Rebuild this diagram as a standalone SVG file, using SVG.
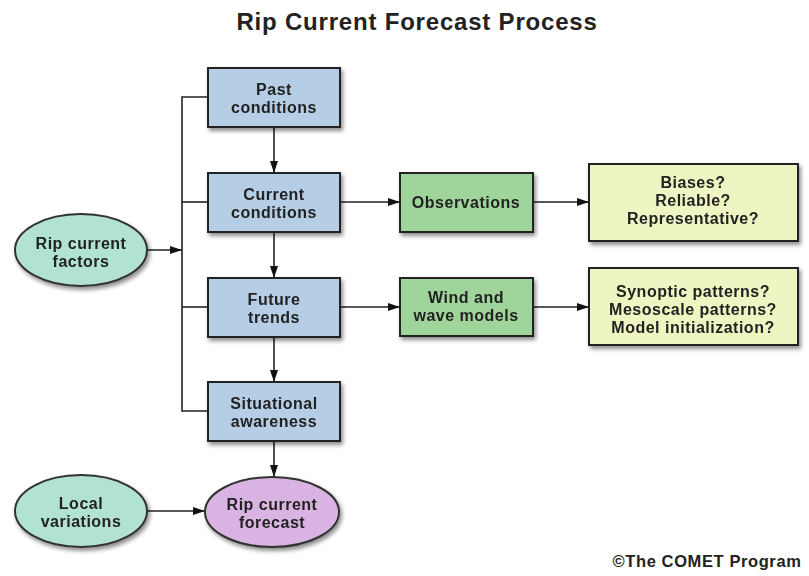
<svg xmlns="http://www.w3.org/2000/svg" width="809" height="576" viewBox="0 0 809 576">
<defs>
<filter id="sh" x="-20%" y="-20%" width="150%" height="160%">
<feGaussianBlur in="SourceAlpha" stdDeviation="2"/>
<feOffset dx="2" dy="3" result="b"/>
<feComponentTransfer><feFuncA type="linear" slope="0.45"/></feComponentTransfer>
<feMerge><feMergeNode/><feMergeNode in="SourceGraphic"/></feMerge>
</filter>
<marker id="ah" markerWidth="12" markerHeight="8" refX="12" refY="4" orient="auto" markerUnits="userSpaceOnUse">
<path d="M0,0 L12,4 L0,8 Z" fill="#111"/>
</marker>
</defs>
<style>
text{font-family:"Liberation Sans",Arial,sans-serif;font-weight:bold;fill:#222;text-anchor:middle}
.t{font-size:16px;letter-spacing:0.5px}
.blue{fill:#b5cde5;stroke:#222;stroke-width:2}
.green{fill:#9fd59b;stroke:#222;stroke-width:2}
.yel{fill:#eef5c2;stroke:#222;stroke-width:2}
.teal{fill:#b2e3d2;stroke:#333;stroke-width:2}
.pur{fill:#d9b4e2;stroke:#333;stroke-width:2}
.c{fill:none;stroke:#222;stroke-width:1.6}
</style>
<rect width="809" height="576" fill="#fff"/>
<text x="417" y="30" style="font-size:24px;letter-spacing:0.8px">Rip Current Forecast Process</text>

<g id="connectors">
<path class="c" d="M208,97 H182 V411 H208"/>
<path class="c" d="M182,202 H208"/>
<path class="c" d="M182,307 H208"/>
<path class="c" d="M147,250 H182" marker-end="url(#ah)"/>
<path class="c" d="M274,127 V173" marker-end="url(#ah)"/>
<path class="c" d="M274,232 V278" marker-end="url(#ah)"/>
<path class="c" d="M274,337 V382" marker-end="url(#ah)"/>
<path class="c" d="M274,441 V477" marker-end="url(#ah)"/>
<path class="c" d="M340,202 H400" marker-end="url(#ah)"/>
<path class="c" d="M340,307 H400" marker-end="url(#ah)"/>
<path class="c" d="M533,202 H589" marker-end="url(#ah)"/>
<path class="c" d="M533,307 H589" marker-end="url(#ah)"/>
<path class="c" d="M147,511 H205" marker-end="url(#ah)"/>
</g>

<g id="past" filter="url(#sh)">
<rect class="blue" x="208" y="68" width="132" height="59"/>
<text class="t" x="274" y="95">Past</text>
<text class="t" x="274" y="113">conditions</text>
</g>
<g id="current" filter="url(#sh)">
<rect class="blue" x="208" y="173" width="132" height="59"/>
<text class="t" x="274" y="200">Current</text>
<text class="t" x="274" y="218">conditions</text>
</g>
<g id="future" filter="url(#sh)">
<rect class="blue" x="208" y="278" width="132" height="59"/>
<text class="t" x="274" y="305">Future</text>
<text class="t" x="274" y="323">trends</text>
</g>
<g id="situational" filter="url(#sh)">
<rect class="blue" x="208" y="382" width="132" height="59"/>
<text class="t" x="274" y="409">Situational</text>
<text class="t" x="274" y="427">awareness</text>
</g>
<g id="factors" filter="url(#sh)">
<ellipse class="teal" cx="81" cy="250" rx="66" ry="36"/>
<text class="t" x="81" y="249">Rip current</text>
<text class="t" x="81" y="267">factors</text>
</g>
<g id="observations" filter="url(#sh)">
<rect class="green" x="400" y="173" width="133" height="59"/>
<text class="t" x="466" y="208">Observations</text>
</g>
<g id="models" filter="url(#sh)">
<rect class="green" x="400" y="278" width="133" height="58"/>
<text class="t" x="466" y="303">Wind and</text>
<text class="t" x="466" y="321">wave models</text>
</g>
<g id="biases" filter="url(#sh)">
<rect class="yel" x="589" y="164" width="209" height="77"/>
<text class="t" x="693" y="188">Biases?</text>
<text class="t" x="693" y="206">Reliable?</text>
<text class="t" x="693" y="224">Representative?</text>
</g>
<g id="synoptic" filter="url(#sh)">
<rect class="yel" x="589" y="268" width="209" height="77"/>
<text class="t" x="693" y="297">Synoptic patterns?</text>
<text class="t" x="693" y="315">Mesoscale patterns?</text>
<text class="t" x="693" y="333">Model initialization?</text>
</g>
<g id="local" filter="url(#sh)">
<ellipse class="teal" cx="81" cy="511" rx="66" ry="36"/>
<text class="t" x="81" y="509">Local</text>
<text class="t" x="81" y="527">variations</text>
</g>
<g id="forecast" filter="url(#sh)">
<ellipse class="pur" cx="272" cy="512" rx="67" ry="35"/>
<text class="t" x="272" y="510">Rip current</text>
<text class="t" x="272" y="528">forecast</text>
</g>

<text x="707" y="567" style="font-size:16.5px;letter-spacing:0.6px">©The COMET Program</text>
</svg>
